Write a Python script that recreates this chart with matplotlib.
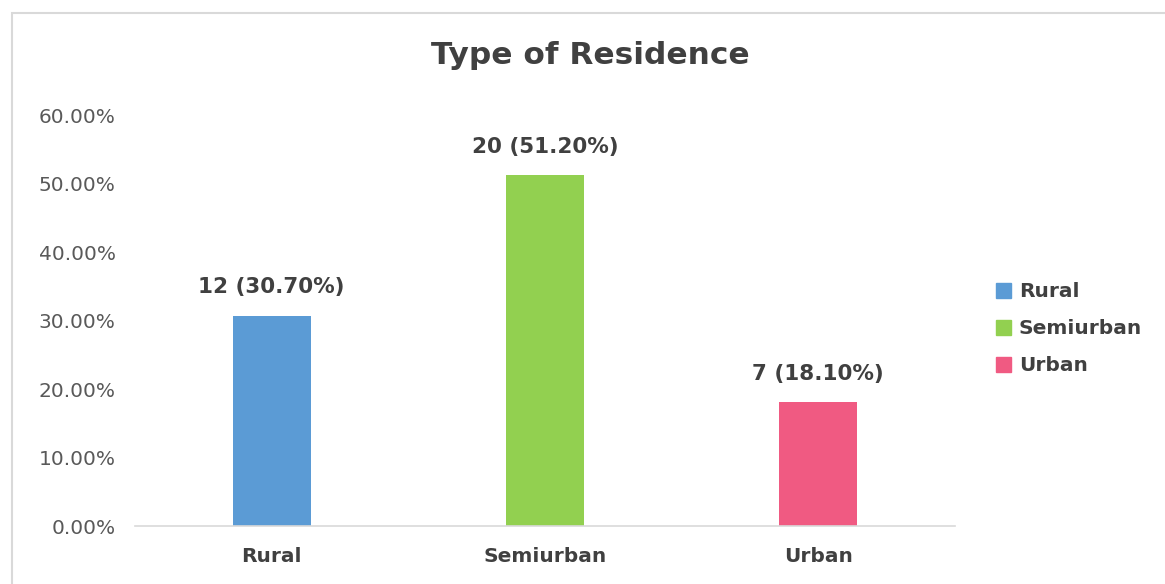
import matplotlib.pyplot as plt
from matplotlib.patches import Rectangle, Patch
from matplotlib.ticker import PercentFormatter

categories = ['Rural', 'Semiurban', 'Urban']
counts = [12, 20, 7]
shares = [0.307, 0.512, 0.181]
colors = ['#5B9BD5', '#92D050', '#F05A82']

fig = plt.figure(figsize=(11.65, 5.84), dpi=100)
ax = fig.add_axes([0.1159, 0.0993, 0.7038, 0.7037])

# outer chart frame
fig.patches.append(Rectangle((12 / 1165, -0.05), 1.2, 1 - 13 / 584 + 0.05,
                             transform=fig.transFigure, fill=False,
                             edgecolor='#d9d9d9', linewidth=1.5))

x = range(len(categories))
bars = ax.bar(x, shares, width=0.285, color=colors)

for i, b in enumerate(bars):
    ax.text(b.get_x() + b.get_width() / 2, shares[i] + 0.027,
            f'{counts[i]} ({shares[i] * 100:.2f}%)',
            ha='center', va='bottom', fontsize=15.5, fontweight='bold',
            color='#404040')

ax.set_xlim(-0.5, 2.5)
ax.set_ylim(0, 0.6)
ax.set_yticks([0, 0.1, 0.2, 0.3, 0.4, 0.5, 0.6])
ax.yaxis.set_major_formatter(PercentFormatter(1.0, decimals=2))
ax.set_xticks(list(x))
ax.set_xticklabels(categories, fontweight='bold')

for s in ['top', 'right', 'left']:
    ax.spines[s].set_visible(False)
ax.spines['bottom'].set_color('#d9d9d9')
ax.spines['bottom'].set_linewidth(1.2)
ax.tick_params(axis='y', length=0, labelsize=14.5, labelcolor='#595959', pad=14)
ax.tick_params(axis='x', length=0, labelsize=14.5, labelcolor='#404040', pad=15)

fig.text(0.507, 0.905, 'Type of Residence', ha='center', va='center',
         fontsize=22.5, fontweight='bold', color='#404040')

handles = [Patch(color=c, label=l) for c, l in zip(colors, categories)]
leg = fig.legend(handles=handles, loc='center left', bbox_to_anchor=(0.839, 0.437),
                 frameon=False, handlelength=0.75, handleheight=0.75,
                 handletextpad=0.4, labelspacing=0.9,
                 prop={'size': 14.5, 'weight': 'bold'})
for t in leg.get_texts():
    t.set_color('#404040')

fig.savefig('out.png', dpi=100)
